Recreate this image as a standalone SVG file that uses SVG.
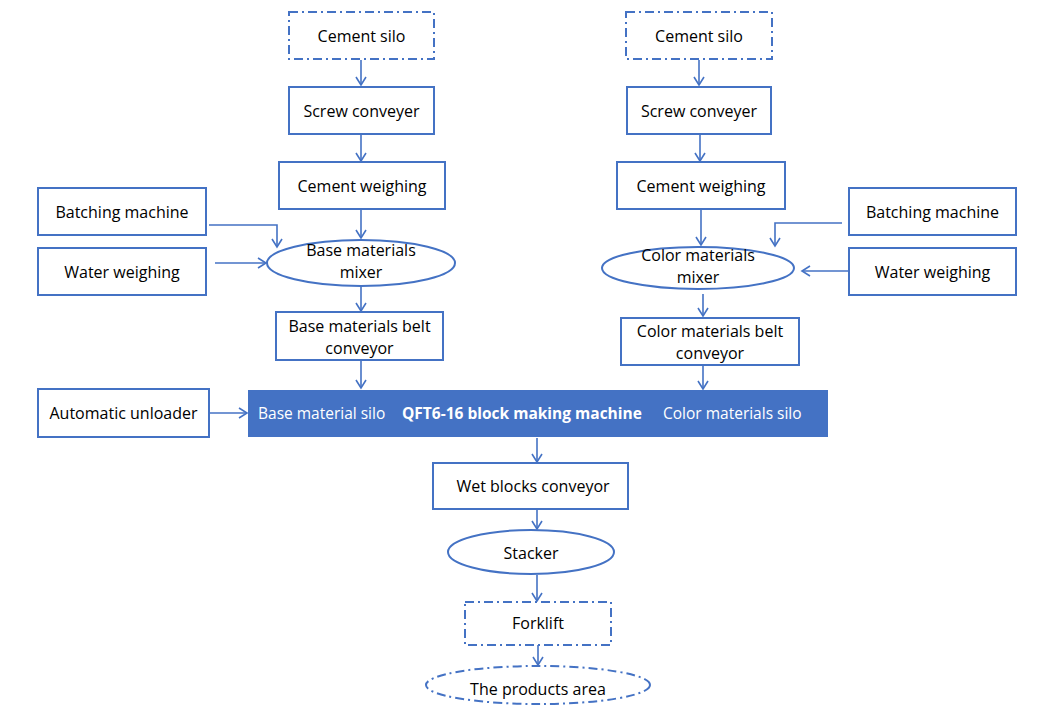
<svg xmlns="http://www.w3.org/2000/svg" width="1052" height="712" viewBox="0 0 1052 712">
<defs>
<style>
.b{fill:#fff;stroke:#4472C4;stroke-width:2}
.d{fill:#fff;stroke:#4472C4;stroke-width:2;stroke-dasharray:9 4 2 4}
.t{font-family:"Open Sans","Liberation Sans",sans-serif;font-size:16px;fill:#000;text-anchor:middle;dominant-baseline:central}
.w{font-family:"Open Sans","Liberation Sans",sans-serif;font-size:15.5px;fill:#fff;dominant-baseline:central}
.c{fill:none;stroke:#4472C4;stroke-width:1.6}
</style>
<marker id="a" markerWidth="12" markerHeight="12" refX="10" refY="6" orient="auto" markerUnits="userSpaceOnUse">
<path d="M2,1 L10,6 L2,11" fill="none" stroke="#4472C4" stroke-width="1.6"/>
</marker>
</defs>
<rect width="1052" height="712" fill="#fff"/>
<g id="connectors">
<path class="c" marker-end="url(#a)" d="M361,60 V85"/>
<path class="c" marker-end="url(#a)" d="M361,134 V161"/>
<path class="c" marker-end="url(#a)" d="M361,209 V238"/>
<path class="c" marker-end="url(#a)" d="M209,225 H277 V247"/>
<path class="c" marker-end="url(#a)" d="M215,263 H266"/>
<path class="c" marker-end="url(#a)" d="M361,287 V311"/>
<path class="c" marker-end="url(#a)" d="M361,361 V388"/>
<path class="c" marker-end="url(#a)" d="M699,60 V85"/>
<path class="c" marker-end="url(#a)" d="M700,134 V161"/>
<path class="c" marker-end="url(#a)" d="M701,209 V245"/>
<path class="c" marker-end="url(#a)" d="M842,223 H775 V246"/>
<path class="c" marker-end="url(#a)" d="M848,271 H802"/>
<path class="c" marker-end="url(#a)" d="M703,294 V316"/>
<path class="c" marker-end="url(#a)" d="M703,366 V389"/>
<path class="c" marker-end="url(#a)" d="M210,413 H247"/>
<path class="c" marker-end="url(#a)" d="M537,438 V462"/>
<path class="c" marker-end="url(#a)" d="M537,509 V529"/>
<path class="c" marker-end="url(#a)" d="M537,575 V601"/>
<path class="c" marker-end="url(#a)" d="M538,645 V665"/>
</g>
<g id="n1"><rect class="d" x="289" y="12" width="145" height="47"/><text class="t" x="361.5" y="36">Cement silo</text></g>
<g id="n2"><rect class="b" x="289" y="87" width="145" height="47"/><text class="t" x="361.5" y="111">Screw conveyer</text></g>
<g id="n3"><rect class="b" x="279" y="162" width="166" height="47"/><text class="t" x="362" y="186">Cement weighing</text></g>
<g id="n4"><rect class="b" x="38" y="188" width="168" height="47"/><text class="t" x="122" y="212">Batching machine</text></g>
<g id="n5"><rect class="b" x="38" y="248" width="168" height="47"/><text class="t" x="122" y="272">Water weighing</text></g>
<g id="n6"><ellipse class="b" cx="361" cy="263" rx="94" ry="23"/><text class="t" x="361" y="250">Base materials</text><text class="t" x="361" y="272">mixer</text></g>
<g id="n7"><rect class="b" x="276" y="312" width="167" height="48"/><text class="t" x="359.5" y="326">Base materials belt</text><text class="t" x="359.5" y="348">conveyor</text></g>
<g id="n8"><rect class="b" x="38" y="389" width="171" height="48"/><text class="t" x="123.5" y="413">Automatic unloader</text></g>
<g id="n9"><rect class="d" x="626" y="12" width="146" height="47"/><text class="t" x="699" y="36">Cement silo</text></g>
<g id="n10"><rect class="b" x="627" y="87" width="144" height="47"/><text class="t" x="699" y="111">Screw conveyer</text></g>
<g id="n11"><rect class="b" x="617" y="162" width="168" height="47"/><text class="t" x="701" y="186">Cement weighing</text></g>
<g id="n12"><rect class="b" x="849" y="188" width="167" height="47"/><text class="t" x="932.5" y="212">Batching machine</text></g>
<g id="n13"><rect class="b" x="849" y="248" width="167" height="47"/><text class="t" x="932.5" y="272">Water weighing</text></g>
<g id="n14"><ellipse class="b" cx="698" cy="268" rx="96" ry="21"/><text class="t" x="698" y="255">Color materials</text><text class="t" x="698" y="277">mixer</text></g>
<g id="n15"><rect class="b" x="621" y="318" width="178" height="47"/><text class="t" x="710" y="331">Color materials belt</text><text class="t" x="710" y="353">conveyor</text></g>
<g id="n16"><rect x="248" y="390" width="580" height="47" fill="#4472C4"/><text class="w" x="258" y="413">Base material silo</text><text class="w" x="402" y="413" font-weight="bold">QFT6-16 block making machine</text><text class="w" x="663" y="413">Color materials silo</text></g>
<g id="n17"><rect class="b" x="433" y="463" width="195" height="46"/><text class="t" x="533" y="486">Wet blocks conveyor</text></g>
<g id="n18"><ellipse class="b" cx="531" cy="552" rx="83" ry="22"/><text class="t" x="531" y="553">Stacker</text></g>
<g id="n19"><rect class="d" x="465" y="602" width="146" height="43"/><text class="t" x="538" y="623">Forklift</text></g>
<g id="n20"><ellipse class="d" cx="538" cy="685" rx="112" ry="19"/><text class="t" x="538" y="689">The products area</text></g>
</svg>
